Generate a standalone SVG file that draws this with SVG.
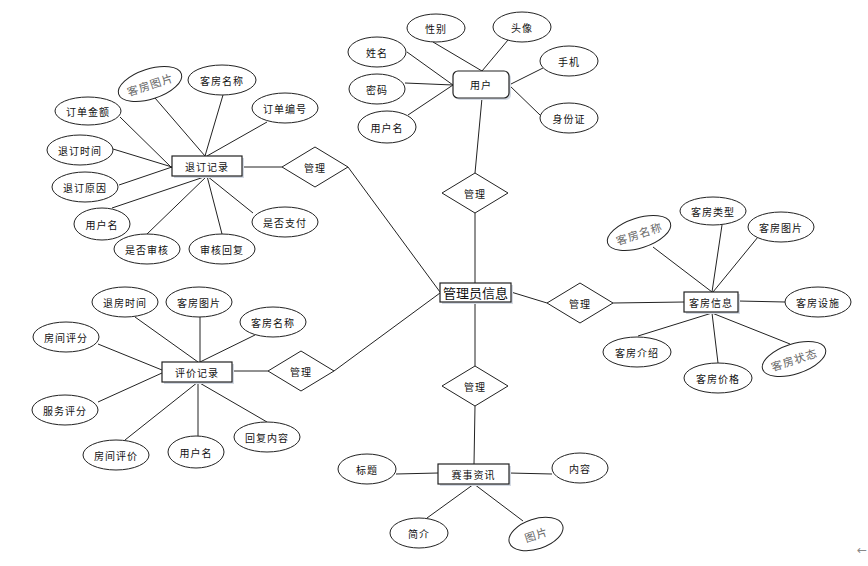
<svg xmlns="http://www.w3.org/2000/svg" width="868" height="566" viewBox="0 0 868 566">
<style>
  .e { fill: #fff; stroke: #222; stroke-width: 1; }
  .b { fill: #fff; stroke: #222; stroke-width: 1.2; }
  .sh { fill: #d4dae4; }
  .d { fill: #fff; stroke: #222; stroke-width: 1; }
  .t { font-family: "Noto Sans CJK SC", "Noto Sans", sans-serif; font-size: 10px; fill: #111; text-anchor: middle; dominant-baseline: central; letter-spacing: 1px; }
  .g { font-family: "Noto Sans CJK SC", "Noto Sans", sans-serif; font-size: 11px; fill: #666; text-anchor: middle; dominant-baseline: central; letter-spacing: 1px; }
  .big { font-size: 13px; letter-spacing: 0; }
  .c line { stroke: #222; stroke-width: 1; }
</style>
<rect width="868" height="566" fill="#fff"/>
<g class="c" id="connectors">
  <!-- 用户 -->
  <line x1="433" y1="42" x2="482" y2="71"/>
  <line x1="508" y1="40" x2="482" y2="71"/>
  <line x1="407" y1="52" x2="453" y2="85"/>
  <line x1="405" y1="83" x2="453" y2="85"/>
  <line x1="408" y1="115" x2="453" y2="85"/>
  <line x1="543" y1="68" x2="509" y2="85"/>
  <line x1="540" y1="115" x2="509" y2="85"/>
  <line x1="482" y1="98" x2="475" y2="173"/>
  <!-- 管理员信息 -->
  <line x1="475" y1="213" x2="475" y2="283"/>
  <line x1="475" y1="302" x2="475" y2="366"/>
  <line x1="440" y1="292" x2="348" y2="167"/>
  <line x1="440" y1="293" x2="334" y2="371"/>
  <line x1="511" y1="292" x2="547" y2="303"/>
  <!-- 客房信息 -->
  <line x1="613" y1="303" x2="684" y2="302"/>
  <line x1="653" y1="247" x2="712" y2="292"/>
  <line x1="722" y1="225" x2="712" y2="292"/>
  <line x1="758" y1="237" x2="713" y2="292"/>
  <line x1="738" y1="301" x2="785" y2="302"/>
  <line x1="638" y1="336" x2="712" y2="313"/>
  <line x1="718" y1="363" x2="712" y2="313"/>
  <line x1="790" y1="344" x2="712" y2="313"/>
  <!-- 退订记录 -->
  <line x1="242" y1="167" x2="282" y2="167"/>
  <line x1="155" y1="98" x2="205" y2="156"/>
  <line x1="223" y1="95" x2="205" y2="156"/>
  <line x1="267" y1="122" x2="207" y2="156"/>
  <line x1="120" y1="117" x2="172" y2="168"/>
  <line x1="113" y1="149" x2="172" y2="167"/>
  <line x1="119" y1="185" x2="172" y2="167"/>
  <line x1="112" y1="208" x2="207" y2="176"/>
  <line x1="147" y1="234" x2="207" y2="176"/>
  <line x1="222" y1="234" x2="207" y2="176"/>
  <line x1="253" y1="213" x2="207" y2="176"/>
  <!-- 评价记录 -->
  <line x1="232" y1="371" x2="268" y2="371"/>
  <line x1="135" y1="317" x2="198" y2="362"/>
  <line x1="200" y1="317" x2="200" y2="362"/>
  <line x1="255" y1="335" x2="200" y2="362"/>
  <line x1="98" y1="344" x2="162" y2="370"/>
  <line x1="98" y1="402" x2="162" y2="373"/>
  <line x1="125" y1="440" x2="198" y2="382"/>
  <line x1="198" y1="436" x2="198" y2="382"/>
  <line x1="267" y1="422" x2="198" y2="382"/>
  <!-- 赛事资讯 -->
  <line x1="475" y1="406" x2="474" y2="464"/>
  <line x1="396" y1="474" x2="438" y2="473"/>
  <line x1="509" y1="473" x2="552" y2="474"/>
  <line x1="427" y1="518" x2="474" y2="484"/>
  <line x1="523" y1="521" x2="474" y2="484"/>
</g>

<!-- 管理员信息 -->
<g id="admin">
  <rect class="sh" x="442" y="285" width="71" height="19"/>
  <rect class="b" x="440" y="283" width="71" height="19"/>
  <text class="t big" x="475.5" y="292.5">管理员信息</text>
</g>

<!-- 用户 -->
<g id="user">
  <rect class="sh" x="455" y="73" width="56" height="27" rx="5"/>
  <rect class="b" x="453" y="71" width="56" height="27" rx="5"/>
  <text class="t" x="481" y="84.5">用户</text>
</g>
<g id="user-xingbie"><ellipse class="e" cx="436" cy="28" rx="29" ry="14"/><text class="t" x="436" y="28">性别</text></g>
<g id="user-touxiang"><ellipse class="e" cx="522" cy="27" rx="29" ry="15"/><text class="t" x="522" y="27">头像</text></g>
<g id="user-xingming"><ellipse class="e" cx="377" cy="52" rx="29" ry="15"/><text class="t" x="377" y="52">姓名</text></g>
<g id="user-mima"><ellipse class="e" cx="377" cy="89" rx="28" ry="15"/><text class="t" x="377" y="89">密码</text></g>
<g id="user-yonghuming"><ellipse class="e" cx="387" cy="127" rx="29" ry="16"/><text class="t" x="387" y="127">用户名</text></g>
<g id="user-shouji"><ellipse class="e" cx="569" cy="61" rx="29" ry="15"/><text class="t" x="569" y="61">手机</text></g>
<g id="user-shenfenzheng"><ellipse class="e" cx="569" cy="118" rx="29" ry="15"/><text class="t" x="569" y="118">身份证</text></g>

<!-- diamonds -->
<g id="rel-top"><polygon class="d" points="475,173 508,193 475,213 442,193"/><text class="t" x="475" y="193">管理</text></g>
<g id="rel-bottom"><polygon class="d" points="475,366 508,386 475,406 442,386"/><text class="t" x="475" y="386">管理</text></g>
<g id="rel-right"><polygon class="d" points="580,283 613,303 580,323 547,303"/><text class="t" x="580" y="303">管理</text></g>
<g id="rel-refund"><polygon class="d" points="315,147 348,167 315,187 282,167"/><text class="t" x="315" y="167">管理</text></g>
<g id="rel-review"><polygon class="d" points="301,351 334,371 301,391 268,371"/><text class="t" x="301" y="371">管理</text></g>

<!-- 客房信息 -->
<g id="room">
  <rect class="sh" x="686" y="294" width="54" height="20"/>
  <rect class="b" x="684" y="292" width="54" height="20"/>
  <text class="t" x="711" y="302">客房信息</text>
</g>
<g id="room-mingcheng"><g transform="rotate(-18 639 233)"><ellipse class="e" cx="639" cy="233" rx="33" ry="15"/><text class="g" x="639" y="233">客房名称</text></g></g>
<g id="room-leixing"><ellipse class="e" cx="713" cy="211" rx="33" ry="14"/><text class="t" x="713" y="211">客房类型</text></g>
<g id="room-tupian"><ellipse class="e" cx="781" cy="227" rx="33" ry="15"/><text class="t" x="781" y="227">客房图片</text></g>
<g id="room-sheshi"><ellipse class="e" cx="818" cy="302" rx="33" ry="15"/><text class="t" x="818" y="302">客房设施</text></g>
<g id="room-zhuangtai"><g transform="rotate(-18 794 359)"><ellipse class="e" cx="794" cy="359" rx="33" ry="15"/><text class="g" x="794" y="359">客房状态</text></g></g>
<g id="room-jiage"><ellipse class="e" cx="718" cy="378" rx="34" ry="15"/><text class="t" x="718" y="378">客房价格</text></g>
<g id="room-jieshao"><ellipse class="e" cx="637" cy="352" rx="34" ry="15"/><text class="t" x="637" y="352">客房介绍</text></g>

<!-- 退订记录 -->
<g id="refund">
  <rect class="sh" x="174" y="158" width="70" height="20"/>
  <rect class="b" x="172" y="156" width="70" height="20"/>
  <text class="t" x="207" y="166">退订记录</text>
</g>
<g id="refund-tupian"><g transform="rotate(-18 150 84)"><ellipse class="e" cx="150" cy="84" rx="33" ry="15"/><text class="g" x="150" y="84">客房图片</text></g></g>
<g id="refund-mingcheng"><ellipse class="e" cx="222" cy="80" rx="34" ry="15"/><text class="t" x="222" y="80">客房名称</text></g>
<g id="refund-bianhao"><ellipse class="e" cx="285" cy="108" rx="33" ry="15"/><text class="t" x="285" y="108">订单编号</text></g>
<g id="refund-jine"><ellipse class="e" cx="88" cy="111" rx="33" ry="14"/><text class="t" x="88" y="111">订单金额</text></g>
<g id="refund-shijian"><ellipse class="e" cx="80" cy="150" rx="33" ry="15"/><text class="t" x="80" y="150">退订时间</text></g>
<g id="refund-yuanyin"><ellipse class="e" cx="85" cy="187" rx="33" ry="15"/><text class="t" x="85" y="187">退订原因</text></g>
<g id="refund-yonghuming"><ellipse class="e" cx="102" cy="224" rx="28" ry="16"/><text class="t" x="102" y="224">用户名</text></g>
<g id="refund-shenhe"><ellipse class="e" cx="147" cy="249" rx="33" ry="15"/><text class="t" x="147" y="249">是否审核</text></g>
<g id="refund-huifu"><ellipse class="e" cx="222" cy="249" rx="33" ry="15"/><text class="t" x="222" y="249">审核回复</text></g>
<g id="refund-zhifu"><ellipse class="e" cx="285" cy="222" rx="33" ry="15"/><text class="t" x="285" y="222">是否支付</text></g>

<!-- 评价记录 -->
<g id="review">
  <rect class="sh" x="164" y="364" width="70" height="20"/>
  <rect class="b" x="162" y="362" width="70" height="20"/>
  <text class="t" x="197" y="372">评价记录</text>
</g>
<g id="review-tuifang"><ellipse class="e" cx="125" cy="302" rx="33" ry="15"/><text class="t" x="125" y="302">退房时间</text></g>
<g id="review-tupian"><ellipse class="e" cx="199" cy="302" rx="33" ry="15"/><text class="t" x="199" y="302">客房图片</text></g>
<g id="review-mingcheng"><ellipse class="e" cx="273" cy="322" rx="33" ry="15"/><text class="t" x="273" y="322">客房名称</text></g>
<g id="review-fangjianpingfen"><ellipse class="e" cx="66" cy="337" rx="33" ry="15"/><text class="t" x="66" y="337">房间评分</text></g>
<g id="review-fuwupingfen"><ellipse class="e" cx="65" cy="410" rx="33" ry="15"/><text class="t" x="65" y="410">服务评分</text></g>
<g id="review-fangjianpingjia"><ellipse class="e" cx="116" cy="455" rx="33" ry="15"/><text class="t" x="116" y="455">房间评价</text></g>
<g id="review-yonghuming"><ellipse class="e" cx="196" cy="452" rx="28" ry="16"/><text class="t" x="196" y="452">用户名</text></g>
<g id="review-huifu"><ellipse class="e" cx="267" cy="437" rx="33" ry="15"/><text class="t" x="267" y="437">回复内容</text></g>

<!-- 赛事资讯 -->
<g id="news">
  <rect class="sh" x="440" y="466" width="71" height="20"/>
  <rect class="b" x="438" y="464" width="71" height="20"/>
  <text class="t" x="473.5" y="474">赛事资讯</text>
</g>
<g id="news-biaoti"><ellipse class="e" cx="367" cy="469" rx="29" ry="15"/><text class="t" x="367" y="469">标题</text></g>
<g id="news-neirong"><ellipse class="e" cx="580" cy="468" rx="28" ry="15"/><text class="t" x="580" y="468">内容</text></g>
<g id="news-jianjie"><ellipse class="e" cx="419" cy="533" rx="29" ry="15"/><text class="t" x="419" y="533">简介</text></g>
<g id="news-tupian"><g transform="rotate(-18 536 534)"><ellipse class="e" cx="536" cy="534" rx="28" ry="15"/><text class="g" x="536" y="534">图片</text></g></g>

<text x="862" y="550" font-family="DejaVu Sans, sans-serif" font-size="12" fill="#888" text-anchor="middle" dominant-baseline="central">←</text>
</svg>
